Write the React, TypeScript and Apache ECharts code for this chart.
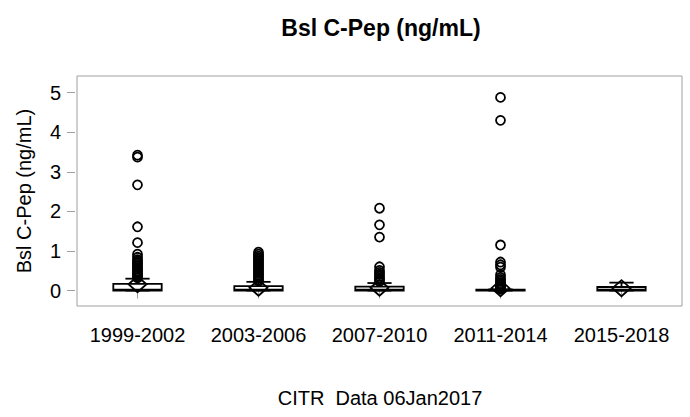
import React, { useEffect, useRef } from "react";
import * as echarts from "echarts";

const categories = ["1999-2002", "2003-2006", "2007-2010", "2011-2014", "2015-2018"];
const whiskerLow = [0, 0, 0, 0, 0];
const q1 = [0, 0, 0, 0, 0];
const median = [0.02, 0.02, 0.02, 0.01, 0.02];
const q3 = [0.17, 0.11, 0.1, 0.02, 0.09];
const whiskerHigh = [0.3, 0.22, 0.19, 0.03, 0.2];
const mean = [0.16, 0.07, 0.07, 0.06, 0.06];
const yTicks = [0, 1, 2, 3, 4, 5];

const outliers1999 = [3.42, 3.37, 2.67, 1.61, 1.21, 0.92, 0.84, 0.78, 0.74, 0.7, 0.66, 0.62, 0.58, 0.54, 0.5, 0.47, 0.44, 0.41, 0.38, 0.35, 0.32];
const outliers2003 = [0.97, 0.92, 0.87, 0.83, 0.79, 0.75, 0.71, 0.67, 0.63, 0.59, 0.55, 0.51, 0.47, 0.43, 0.39, 0.35, 0.31, 0.27, 0.24];
const outliers2007 = [2.08, 1.66, 1.35, 0.6, 0.51, 0.46, 0.41, 0.36, 0.31, 0.27, 0.23];
const outliers2011 = [4.88, 4.3, 1.15, 0.72, 0.65, 0.59, 0.4, 0.33, 0.28, 0.24, 0.2, 0.17, 0.14, 0.11, 0.08, 0.06, 0.04];
const outliers2015: number[] = [];
const outlierLists = [outliers1999, outliers2003, outliers2007, outliers2011, outliers2015];

const FONT = "Liberation Sans, Arial, sans-serif";
const GRAY = "#a0a0a0";

export default function App() {
  const ref = useRef<HTMLDivElement>(null);
  useEffect(() => {
    document.body.style.margin = "0";
    if (!ref.current) return;
    const chart = echarts.init(ref.current, undefined, { renderer: "svg" });
    const boxData = categories.map((_, i) => [i, whiskerLow[i], q1[i], median[i], q3[i], whiskerHigh[i], mean[i]]);
    const outlierData: [string, number][] = [];
    outlierLists.forEach((list, i) => list.forEach((v) => outlierData.push([categories[i], v])));
    const stroke = { stroke: "#000", lineWidth: 1.8, fill: "none" };
    chart.setOption({
      animation: false,
      title: [
        {
          text: "Bsl C-Pep (ng/mL)",
          left: 381,
          textAlign: "center",
          top: 16,
          padding: 0,
          textStyle: { fontFamily: FONT, fontSize: 23, fontWeight: "bold", color: "#000" },
        },
        {
          text: "CITR  Data 06Jan2017",
          left: 380,
          textAlign: "center",
          top: 388,
          padding: 0,
          textStyle: { fontFamily: FONT, fontSize: 20, fontWeight: "normal", color: "#000" },
        },
      ],
      grid: { left: 77, right: 8, top: 76, bottom: 111, show: true, borderColor: GRAY, borderWidth: 1, backgroundColor: "transparent" },
      xAxis: {
        type: "category",
        data: categories,
        boundaryGap: true,
        offset: 3,
        axisLine: { show: false },
        axisTick: { show: true, alignWithLabel: true, length: 8, lineStyle: { color: GRAY, width: 1 } },
        axisLabel: { fontFamily: FONT, fontSize: 20, color: "#000", margin: 16, interval: 0 },
        splitLine: { show: false },
      },
      yAxis: {
        type: "value",
        min: -0.39,
        max: 5.42,
        offset: 2,
        name: "Bsl C-Pep (ng/mL)",
        nameLocation: "middle",
        nameGap: 41,
        nameTextStyle: { fontFamily: FONT, fontSize: 20, color: "#000" },
        axisLine: { show: false },
        axisTick: { show: true, length: 8, customValues: yTicks, lineStyle: { color: GRAY, width: 1 } },
        axisLabel: { fontFamily: FONT, fontSize: 20, color: "#000", margin: 14, customValues: yTicks },
        splitLine: { show: false },
      },
      series: [
        {
          type: "custom",
          data: boxData,
          encode: { x: 0, y: [1, 2, 3, 4, 5, 6] },
          renderItem: (params: any, api: any) => {
            const idx = api.value(0);
            const band = api.size([1, 0])[0];
            const half = band * 0.2;
            const cap = band * 0.1;
            const pLow = api.coord([idx, api.value(1)]);
            const pQ1 = api.coord([idx, api.value(2)]);
            const pMed = api.coord([idx, api.value(3)]);
            const pQ3 = api.coord([idx, api.value(4)]);
            const pHigh = api.coord([idx, api.value(5)]);
            const pMean = api.coord([idx, api.value(6)]);
            const x = pQ1[0];
            const dw = 9;
            const dh = 8;
            return {
              type: "group",
              children: [
                { type: "line", shape: { x1: x, y1: pQ3[1], x2: x, y2: pHigh[1] }, style: stroke },
                { type: "line", shape: { x1: x - cap, y1: pHigh[1], x2: x + cap, y2: pHigh[1] }, style: stroke },
                { type: "line", shape: { x1: x, y1: pQ1[1], x2: x, y2: pLow[1] }, style: stroke },
                { type: "line", shape: { x1: x - cap, y1: pLow[1], x2: x + cap, y2: pLow[1] }, style: stroke },
                { type: "rect", shape: { x: x - half, y: pQ3[1], width: half * 2, height: Math.max(pQ1[1] - pQ3[1], 0.5) }, style: stroke },
                { type: "line", shape: { x1: x - half, y1: pMed[1], x2: x + half, y2: pMed[1] }, style: stroke },
                {
                  type: "polygon",
                  shape: {
                    points: [
                      [pMean[0] - dw, pMean[1]],
                      [pMean[0], pMean[1] - dh],
                      [pMean[0] + dw, pMean[1]],
                      [pMean[0], pMean[1] + dh],
                    ],
                  },
                  style: stroke,
                },
              ],
            };
          },
          z: 2,
        },
        {
          type: "scatter",
          data: outlierData,
          symbol: "circle",
          symbolSize: 9,
          itemStyle: { color: "transparent", borderColor: "#000", borderWidth: 1.8, opacity: 1 },
          z: 3,
        },
      ],
    });
    return () => chart.dispose();
  }, []);
  return <div ref={ref} style={{ width: 690, height: 417 }} />;
}
